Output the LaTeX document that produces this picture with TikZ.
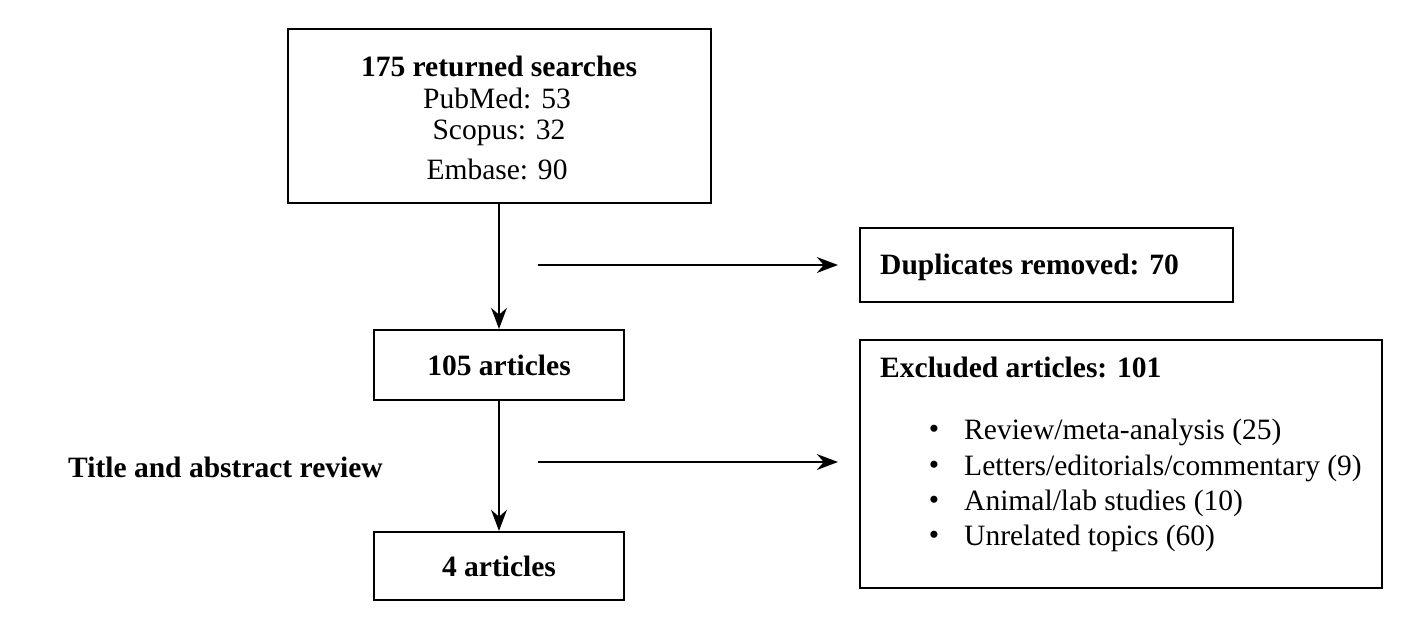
\documentclass[tikz,border=0pt]{standalone}
\usepackage{fontspec}
\setmainfont{Liberation Serif}
\usetikzlibrary{arrows.meta}
\begin{document}
\begin{tikzpicture}[x=0.02cm,y=-0.02cm,
  box/.style={draw,line width=1.2pt,inner sep=0pt},
  arr/.style={-{Stealth[length=12pt,width=9pt]},line width=1.2pt},
  every node/.style={font=\fontsize{16.8}{20}\selectfont}]
\useasboundingbox (0,0) rectangle (1420,636);
\node[box,minimum width=423*0.02cm,minimum height=174*0.02cm] (top) at (499.5,116) {};
\node (t1) at (499,66) {\textbf{175 returned searches}};
\node (t2) at (497,98) {PubMed: 53};
\node (t3) at (499,133) {Scopus: 32};
\node (t4) at (497,169) {Embase: 90};
\node[box,minimum width=373*0.02cm,minimum height=74*0.02cm] (dup) at (1046.5,265) {};
\node[anchor=west] (dupt) at (874,267) {\textbf{Duplicates removed: 70}};
\node[box,minimum width=250*0.02cm,minimum height=70*0.02cm] (a105) at (499,365) {\textbf{105 articles}};
\node[box,minimum width=522*0.02cm,minimum height=248*0.02cm] (exc) at (1121,464) {};
\node[anchor=west] (exct) at (874,367) {\textbf{Excluded articles: 101}};
\foreach \y/\t [count=\i] in {432/{Review/meta-analysis (25)},468/{Letters/editorials/commentary (9)},503/{Animal/lab studies (10)},538/{Unrelated topics (60)}}{
  \node (b\i) at (934,\y) {\textbullet};
  \node[anchor=west] (bt\i) at (958,\y) {\t};
}
\node[box,minimum width=250*0.02cm,minimum height=68*0.02cm] (a4) at (499,566) {\textbf{4 articles}};
\node[anchor=west] (tar) at (62,467) {\textbf{Title and abstract review}};
\coordinate (h1s) at (538,265); \coordinate (h1e) at (838,265);
\coordinate (h2s) at (538,462); \coordinate (h2e) at (838,462);
\draw[arr] (top.south -| a105.north) -- (a105.north);
\draw[arr] (a105) -- (a4);
\draw[arr] (h1s) -- (h1e);
\draw[arr] (h2s) -- (h2e);
\end{tikzpicture}
\end{document}
